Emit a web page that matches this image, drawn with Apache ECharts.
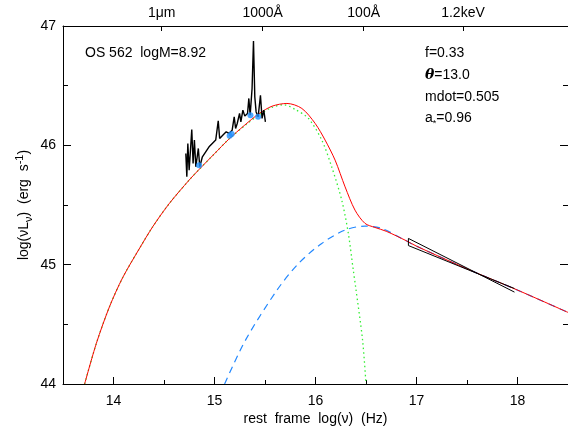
<!DOCTYPE html>
<html>
<head>
<meta charset="utf-8">
<script src="https://cdn.jsdelivr.net/npm/echarts@6/dist/echarts.min.js"></script>
<style>
  html, body { margin: 0; padding: 0; background: #fff; }
  #main { width: 568px; height: 433px; }
</style>
</head>
<body>
<div id="main"></div>
<script>
// 底部和顶部刻度
const xTicks = [14, 15, 16, 17, 18];
const xMinorTicks = [14.5, 15.5, 16.5, 17.5];
const topTickValues = [14.477, 15.477, 16.477, 17.46];
const topTickLabels = ['1μm', '1000Å', '100Å', '1.2keV'];

// 总谱 (红色)
const totalX = [13.714, 13.83, 13.96, 14.09, 14.26, 14.39, 14.55, 14.75, 14.85, 15.0, 15.14, 15.3, 15.44, 15.57, 15.717, 15.865, 15.997, 16.095, 16.194, 16.293, 16.391, 16.49, 16.588, 16.7, 16.9, 17.0, 17.5, 18.0, 18.5];
const totalY = [44.0, 44.34, 44.647, 44.89, 45.14, 45.32, 45.51, 45.71, 45.80, 45.93, 46.05, 46.17, 46.265, 46.328, 46.351, 46.309, 46.183, 46.044, 45.876, 45.652, 45.457, 45.346, 45.312, 45.28, 45.20, 45.155, 44.965, 44.787, 44.6];

// 吸积盘 (绿色点线)
const diskX = [13.714, 13.83, 13.96, 14.09, 14.26, 14.39, 14.55, 14.75, 14.85, 15.0, 15.14, 15.3, 15.44, 15.57, 15.685, 15.8, 15.931, 16.062, 16.16, 16.26, 16.325, 16.374, 16.397, 16.466, 16.5];
const diskY = [44.0, 44.34, 44.647, 44.89, 45.14, 45.32, 45.51, 45.71, 45.80, 45.93, 46.05, 46.165, 46.255, 46.318, 46.34, 46.3, 46.225, 46.044, 45.82, 45.54, 45.262, 44.955, 44.815, 44.368, 44.0];

// 康普顿成分 (蓝色虚线)
const coronaX = [15.10, 15.307, 15.619, 15.833, 16.062, 16.293, 16.49, 16.653, 16.884, 17.0, 17.5, 18.0, 18.5];
const coronaY = [44.0, 44.368, 44.787, 45.011, 45.178, 45.29, 45.323, 45.304, 45.206, 45.155, 44.965, 44.787, 44.6];

// 光学/紫外光谱 (黑色)
const specX = [14.716, 14.726, 14.736, 14.749, 14.762, 14.775, 14.788, 14.801, 14.815, 14.84, 14.854, 14.88, 14.913, 14.946, 14.978, 15.012, 15.037, 15.051, 15.084, 15.116, 15.143, 15.175, 15.195, 15.209, 15.225, 15.248, 15.261, 15.281, 15.3, 15.327, 15.34, 15.353, 15.372, 15.386, 15.399, 15.412, 15.432, 15.455, 15.471, 15.488, 15.504];
const specY = [45.932, 45.736, 46.016, 45.792, 45.96, 46.133, 45.848, 46.044, 45.82, 45.974, 45.82, 45.904, 45.946, 45.988, 46.016, 46.044, 46.205, 46.058, 46.086, 46.113, 46.1, 46.127, 46.239, 46.141, 46.183, 46.267, 46.197, 46.295, 46.245, 46.267, 46.393, 46.253, 46.476, 46.875, 46.406, 46.28, 46.239, 46.42, 46.225, 46.295, 46.197];

// 连续谱测光点 (蓝点)
const photX = [14.847, 15.15, 15.17, 15.356, 15.432];
const photY = [45.834, 46.08, 46.095, 46.253, 46.24];

// X射线 bowtie (上边右端 -> 左上 -> 左下 -> 下边右端)
const bowX = [17.97, 16.92, 16.92, 17.97];
const bowY = [44.77, 45.22, 45.16, 44.80];

const pairs = (xs, ys) => xs.map((x, i) => [x, ys[i]]);

const font = 'Liberation Sans';
const fs = 14;

const chart = echarts.init(document.getElementById('main'));
const option = {
  backgroundColor: '#fff',
  animation: false,
  grid: { left: 63, top: 26, width: 507, height: 358 },
  xAxis: [
    {
      type: 'value', position: 'bottom', min: 13.5, max: 18.5,
      name: 'rest  frame  log(ν)  (Hz)', nameLocation: 'middle', nameGap: 28, nameMoveOverlap: false,
      nameTextStyle: { fontFamily: font, fontSize: fs, color: '#000' },
      axisLine: { show: true, lineStyle: { color: '#000', width: 1 } },
      axisTick: { show: true, inside: true, length: 7, customValues: xTicks, lineStyle: { color: '#000' } },
      axisLabel: { customValues: xTicks, margin: 10, fontFamily: font, fontSize: fs, color: '#000' },
      splitLine: { show: false }
    },
    {
      type: 'value', position: 'bottom', offset: 0, min: 13.5, max: 18.5,
      axisLine: { show: false },
      axisTick: { show: true, inside: true, length: 4, customValues: xMinorTicks, lineStyle: { color: '#000' } },
      axisLabel: { show: false },
      splitLine: { show: false }
    },
    {
      type: 'value', position: 'top', min: 13.5, max: 18.5,
      axisLine: { show: true, lineStyle: { color: '#000', width: 1 } },
      axisTick: { show: true, inside: true, length: 5, customValues: topTickValues, lineStyle: { color: '#000' } },
      axisLabel: {
        customValues: topTickValues, margin: 6, fontFamily: font, fontSize: fs, color: '#000',
        formatter: v => {
          let best = 0;
          topTickValues.forEach((t, i) => { if (Math.abs(t - v) < Math.abs(topTickValues[best] - v)) best = i; });
          return topTickLabels[best];
        }
      },
      splitLine: { show: false }
    }
  ],
  yAxis: [
    {
      type: 'value', position: 'left', min: 44, max: 47, interval: 1,
      name: 'log(νL{s|ν})  (erg  s{p|-1})', nameLocation: 'middle', nameGap: 29, nameRotate: 90,
      nameMoveOverlap: false,
      nameTextStyle: {
        fontFamily: font, fontSize: fs, color: '#000', lineHeight: 20,
        rich: {
          s: { fontFamily: font, fontSize: 11, color: '#000', verticalAlign: 'bottom', lineHeight: 20 },
          p: { fontFamily: font, fontSize: 11, color: '#000', verticalAlign: 'top', lineHeight: 20 }
        }
      },
      axisLine: { show: true, lineStyle: { color: '#000', width: 1 } },
      axisTick: { show: true, inside: true, length: 8, lineStyle: { color: '#000' } },
      minorTick: { show: true, splitNumber: 2, length: 5, lineStyle: { color: '#000' } },
      axisLabel: { margin: 7, fontFamily: font, fontSize: fs, color: '#000' },
      splitLine: { show: false }
    },
    {
      type: 'value', position: 'right', min: 44, max: 47, interval: 1,
      axisLine: { show: true, lineStyle: { color: '#000', width: 1 } },
      axisTick: { show: true, inside: true, length: 8, lineStyle: { color: '#000' } },
      minorTick: { show: true, splitNumber: 2, length: 5, lineStyle: { color: '#000' } },
      axisLabel: { show: false },
      splitLine: { show: false }
    }
  ],
  series: [
    {
      name: 'corona', type: 'line', data: pairs(coronaX, coronaY), showSymbol: false,
      smooth: 0.3, clip: true,
      lineStyle: { color: '#2288ff', width: 1.2, type: [7, 5] }
    },
    {
      name: 'disk', type: 'line', data: pairs(diskX, diskY), showSymbol: false,
      smooth: 0.3, clip: true,
      lineStyle: { color: '#33ee33', width: 1.3, type: [1.5, 3] }
    },
    {
      name: 'total', type: 'line', data: pairs(totalX, totalY), showSymbol: false,
      smooth: 0.3, clip: true,
      lineStyle: { color: '#ff0000', width: 1 }
    },
    {
      name: 'spectrum', type: 'line', data: pairs(specX, specY), showSymbol: false,
      lineStyle: { color: '#000', width: 1.4 }
    },
    {
      name: 'photometry', type: 'scatter', data: pairs(photX, photY), z: 5,
      symbolSize: 6, itemStyle: { color: '#1e90ff' }
    },
    {
      name: 'xray', type: 'line', data: pairs(bowX, bowY), showSymbol: false,
      lineStyle: { color: '#000', width: 1 }
    }
  ],
  graphic: [
    { type: 'text', left: 85, top: 46, style: { text: 'OS 562  logM=8.92', font: fs + 'px ' + font, fill: '#000' } },
    { type: 'text', left: 425, top: 46, style: { text: 'f=0.33', font: fs + 'px ' + font, fill: '#000' } },
    {
      type: 'text', left: 425, top: 68,
      style: {
        text: '{b|θ}=13.0', font: fs + 'px ' + font, fill: '#000',
        rich: { b: { fontFamily: 'DejaVu Serif', fontSize: fs, fontWeight: 'bold', fontStyle: 'italic', fill: '#000' } }
      }
    },
    { type: 'text', left: 425, top: 90, style: { text: 'mdot=0.505', font: fs + 'px ' + font, fill: '#000' } },
    {
      type: 'text', left: 425, top: 111,
      style: {
        text: 'a{s|*}=0.96', font: fs + 'px ' + font, fill: '#000',
        rich: { s: { fontFamily: font, fontSize: 9, verticalAlign: 'bottom', lineHeight: 20, fill: '#000' } }
      }
    }
  ]
};
chart.setOption(option);
</script>
</body>
</html>
